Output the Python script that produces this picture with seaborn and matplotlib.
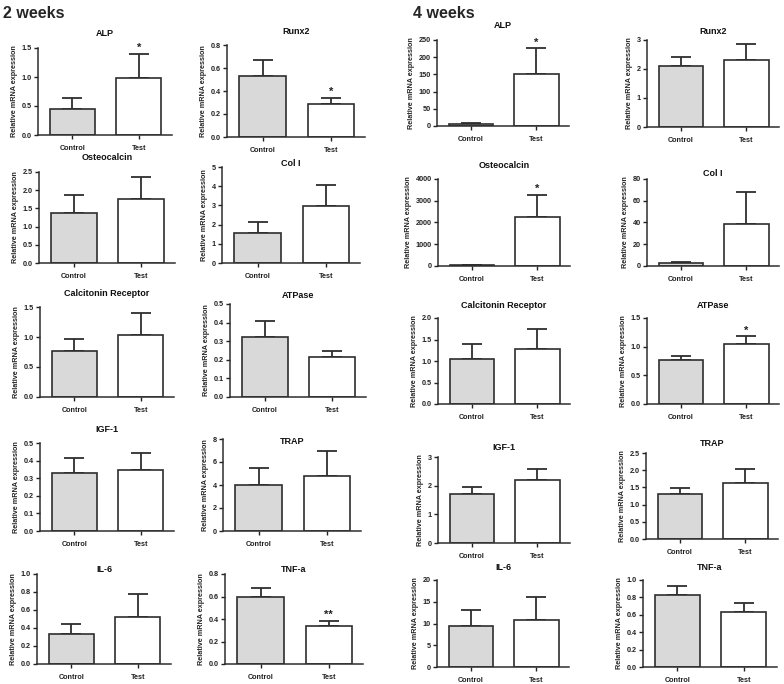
import matplotlib
matplotlib.use("Agg")
import numpy as np
import pandas as pd
import seaborn as sns
import matplotlib.pyplot as plt

# genes and groups
genes = ["ALP", "Runx2", "Osteocalcin", "Col I", "Calcitonin Receptor",
         "ATPase", "IGF-1", "TRAP", "IL-6", "TNF-a"]
groups = ["Control", "Test"]

# 2 weeks: means and upper error (SEM)
w2_control = [0.45, 0.53, 1.36, 1.58, 0.77, 0.32, 0.33, 4.01, 0.33, 0.60]
w2_control_err = [0.19, 0.14, 0.52, 0.56, 0.20, 0.09, 0.086, 1.49, 0.11, 0.076]
w2_test = [0.98, 0.29, 1.77, 2.97, 1.03, 0.217, 0.347, 4.8, 0.522, 0.338]
w2_test_err = [0.42, 0.05, 0.59, 1.08, 0.37, 0.033, 0.098, 2.15, 0.256, 0.047]
w2_ymax = [1.5, 0.8, 2.5, 5, 1.5, 0.5, 0.5, 8, 1.0, 0.8]
w2_ystep = [0.5, 0.2, 0.5, 1, 0.5, 0.1, 0.1, 2, 0.2, 0.2]
w2_stars = ["*", "*", "", "", "", "", "", "", "", "**"]

# 4 weeks
w4_control = [5, 2.11, 30, 3.1, 1.05, 0.76, 1.72, 1.31, 9.4, 0.823]
w4_control_err = [3, 0.31, 15, 0.9, 0.34, 0.07, 0.25, 0.16, 3.8, 0.112]
w4_test = [151, 2.31, 2270, 38.9, 1.28, 1.05, 2.20, 1.63, 10.8, 0.635]
w4_test_err = [75, 0.54, 1004, 28.7, 0.46, 0.13, 0.37, 0.41, 5.2, 0.095]
w4_ymax = [250, 3, 4000, 80, 2.0, 1.5, 3, 2.5, 20, 1.0]
w4_ystep = [50, 1, 1000, 20, 0.5, 0.5, 1, 0.5, 5, 0.2]
w4_stars = ["*", "", "*", "", "", "*", "", "", "", ""]

# layout in pixels: (left, top, bottom, width) and title centre y
w2_boxes = [(38, 48, 135, 134), (227, 45, 137, 138), (39, 172, 263, 136), (222, 167, 263, 138),
            (40, 307, 397, 134), (230, 304, 397, 136), (40, 443, 531, 134), (223, 439, 531, 138),
            (37, 574, 664, 134), (225, 574, 664, 138)]
w2_title_y = [33, 32, 158, 163, 293, 296, 429, 441, 570, 570]
w4_boxes = [(437, 40, 126, 132), (647, 40, 127, 132), (438, 179, 266, 132), (647, 179, 266, 132),
            (438, 318, 404, 132), (647, 318, 404, 132), (438, 457, 543, 132), (646, 453, 539, 132),
            (437, 580, 667, 132), (643, 580, 667, 134)]
w4_title_y = [25, 31, 166, 173, 305, 305, 447, 443, 568, 568]

sns.set_style("ticks")
plt.rcParams['font.family'] = ['Liberation Sans', 'DejaVu Sans']
plt.rcParams['font.weight'] = 'bold'

W, H = 784, 684
fig = plt.figure(figsize=(W / 100, H / 100), dpi=100)
edge = "#2e2e2e"


def panel(box, title_y, gene, ctrl, ctrl_err, test, test_err, ymax, ystep, star):
    left, top, bottom, width = box
    ax = fig.add_axes([left / W, 1 - bottom / H, width / W, (bottom - top) / H])
    df = pd.DataFrame({"group": groups, "value": [ctrl, test]})
    sns.barplot(data=df, x="group", y="value", hue="group",
                palette={"Control": "#d9d9d9", "Test": "white"}, saturation=1,
                edgecolor=edge, linewidth=1.2, width=0.68, errorbar=None,
                legend=False, ax=ax, zorder=2)
    ax.errorbar([0, 1], [ctrl, test], yerr=[[0, 0], [ctrl_err, test_err]],
                fmt="none", ecolor=edge, elinewidth=1.3, capsize=7, capthick=1.3, zorder=1)
    if star:
        ax.annotate(star, xy=(1, test + test_err), xytext=(0, 0.5),
                    textcoords="offset points", ha="center", va="bottom",
                    fontsize=8, fontweight="bold", color="#222")
    ticks = np.arange(0, ymax + ystep / 2, ystep)
    ax.set_ylim(0, ymax)
    ax.set_yticks(ticks)
    if float(ystep).is_integer():
        ax.set_yticklabels([f"{t:.0f}" for t in ticks])
    else:
        ax.set_yticklabels([f"{t:.1f}" for t in ticks])
    ax.set_xlim(-0.52, 1.5)
    ax.set_xlabel("")
    ax.set_ylabel("Relative mRNA expression", fontsize=5.2, fontweight="bold", labelpad=2.5)
    ax.tick_params(axis="y", labelsize=5.2, length=3, width=1, pad=1.5, colors="#222")
    ax.tick_params(axis="x", labelsize=5.2, length=3, width=1, pad=4, colors="#222")
    sns.despine(ax=ax)
    for s in ["left", "bottom"]:
        ax.spines[s].set_color(edge)
        ax.spines[s].set_linewidth(1.1)
    fig.text((left + width / 2) / W, 1 - title_y / H, gene, ha="center", va="center",
             fontsize=6.5, fontweight="bold", color="#111")


for i, g in enumerate(genes):
    panel(w2_boxes[i], w2_title_y[i], g, w2_control[i], w2_control_err[i],
          w2_test[i], w2_test_err[i], w2_ymax[i], w2_ystep[i], w2_stars[i])
    panel(w4_boxes[i], w4_title_y[i], g, w4_control[i], w4_control_err[i],
          w4_test[i], w4_test_err[i], w4_ymax[i], w4_ystep[i], w4_stars[i])

fig.text(3 / W, 1 - 14 / H, "2 weeks", ha="left", va="center", fontsize=11.5, fontweight="bold")
fig.text(413 / W, 1 - 14 / H, "4 weeks", ha="left", va="center", fontsize=11.5, fontweight="bold")

fig.savefig("out.png", dpi=100, facecolor="white")
